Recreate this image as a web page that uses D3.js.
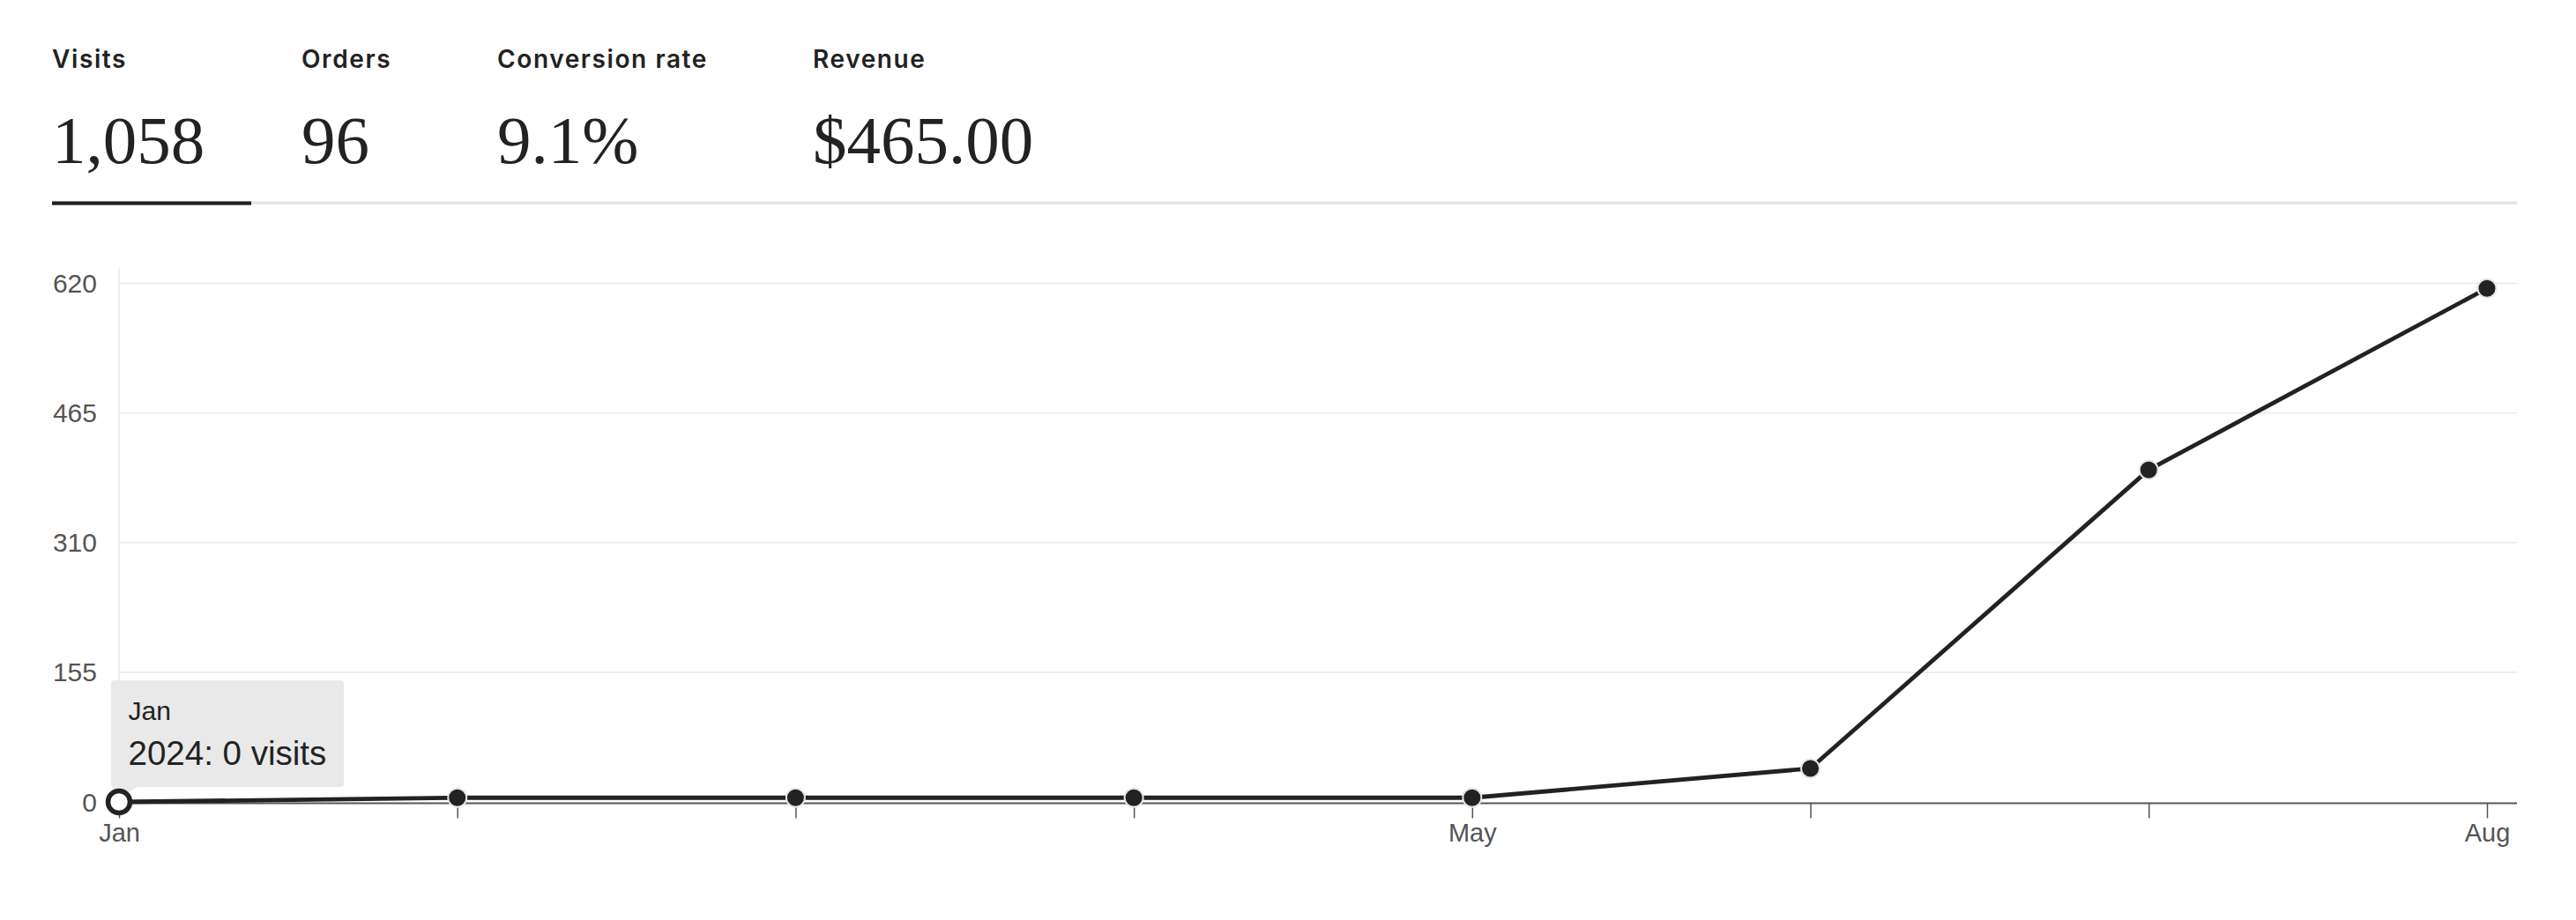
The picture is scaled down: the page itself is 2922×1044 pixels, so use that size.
<!DOCTYPE html>
<html>
<head>
<meta charset="utf-8">
<script src="https://cdn.jsdelivr.net/npm/d3@7/dist/d3.min.js"></script>
<style>
  html, body { margin: 0; padding: 0; background: #fff; }
  svg { display: block; }
</style>
</head>
<body>
<div id="chart"></div>
<script>
// ---- data ----
const metricLabels = ["Visits", "Orders", "Conversion rate", "Revenue"];
const metricValues = ["1,058", "96", "9.1%", "$465.00"];
const months = ["Jan", "Feb", "Mar", "Apr", "May", "Jun", "Jul", "Aug"];
const visits = [0, 5, 5, 5, 5, 40, 397, 614];
const yTicks = [0, 155, 310, 465, 620];
const xTickLabels = ["Jan", "May", "Aug"];
const tooltipTitle = "Jan";
const tooltipBody = "2024: 0 visits";

// ---- layout ----
const W = 2922, H = 1044;
const svg = d3.select("#chart").append("svg").attr("width", W).attr("height", H);

// header metrics
const metricX = [59, 342, 564, 922];
const header = svg.append("g");
metricLabels.forEach((lab, i) => {
  header.append("text")
    .attr("x", metricX[i]).attr("y", 77)
    .attr("font-family", "Inter, 'Open Sans', sans-serif")
    .attr("font-weight", 600).attr("font-size", 28)
    .attr("letter-spacing", 1.6)
    .attr("fill", "#222").text(lab);
  header.append("text")
    .attr("x", metricX[i]).attr("y", 185)
    .attr("font-family", "'Liberation Serif', serif")
    .attr("font-weight", 400).attr("font-size", 77)
    .attr("fill", "#222").text(metricValues[i]);
});
header.append("rect").attr("x", 59).attr("y", 228.5).attr("width", 2796).attr("height", 3.5).attr("fill", "#e6e6e6");
header.append("rect").attr("x", 59).attr("y", 228.5).attr("width", 226).attr("height", 4.2).attr("fill", "#222");

// chart scales
const x = d3.scalePoint().domain(months).range([135, 2821]);
const y = d3.scaleLinear().domain([0, 620]).range([910, 321.5]);
const plotRight = 2855;

const g = svg.append("g");

// gridlines
g.append("g").selectAll("line").data(yTicks.filter(d => d > 0)).join("line")
  .attr("x1", 135).attr("x2", plotRight)
  .attr("y1", d => y(d)).attr("y2", d => y(d))
  .attr("stroke", "#ededed").attr("stroke-width", 2);

// y axis line
g.append("line").attr("x1", 135).attr("x2", 135).attr("y1", 304).attr("y2", 911)
  .attr("stroke", "#ededed").attr("stroke-width", 2);

// y labels
g.append("g").selectAll("text").data(yTicks).join("text")
  .attr("x", 110).attr("y", d => y(d)).attr("dy", "0.35em")
  .attr("text-anchor", "end")
  .attr("font-family", "'Liberation Sans', Arial, sans-serif").attr("font-size", 30)
  .attr("fill", "#555").text(d => d);

// x axis using d3.axisBottom
const xAxis = d3.axisBottom(x).tickSize(17).tickPadding(6)
  .tickFormat(d => xTickLabels.includes(d) ? d : "");
const ax = g.append("g").attr("transform", "translate(0,911.5)").call(xAxis);
ax.select(".domain").remove();
ax.append("line").attr("x1", 135).attr("x2", plotRight).attr("y1", 0).attr("y2", 0)
  .attr("stroke", "#555").attr("stroke-width", 2.2);
ax.selectAll(".tick line").attr("stroke", "#555").attr("stroke-width", 1.5);
ax.selectAll(".tick text")
  .attr("font-family", "'Liberation Sans', Arial, sans-serif").attr("font-size", 29)
  .attr("fill", "#555");

// line
const data = months.map((m, i) => ({ m, v: visits[i] }));
g.append("path").datum(data)
  .attr("d", d3.line().x(d => x(d.m)).y(d => y(d.v)))
  .attr("fill", "none").attr("stroke", "#222").attr("stroke-width", 4.8)
  .attr("stroke-linejoin", "round");

// points
g.append("g").selectAll("circle").data(data.slice(1)).join("circle")
  .attr("cx", d => x(d.m)).attr("cy", d => y(d.v)).attr("r", 10.5)
  .attr("fill", "#222").attr("stroke", "#e6e6e6").attr("stroke-width", 2);

// tooltip
const tt = g.append("g");
tt.append("rect").attr("x", 126).attr("y", 772).attr("width", 264).attr("height", 121)
  .attr("rx", 4).attr("fill", "#e9e9e9");
tt.append("path")
  .attr("d", `M${x("Jan") - 8},892 L${x("Jan") + 22},892 L${x("Jan") + 4},904 Z`)
  .attr("fill", "#e9e9e9");
tt.append("text").attr("x", 145.5).attr("y", 817)
  .attr("font-family", "'Liberation Sans', Arial, sans-serif").attr("font-size", 30)
  .attr("fill", "#222").text(tooltipTitle);
tt.append("text").attr("x", 145.5).attr("y", 868)
  .attr("font-family", "'Liberation Sans', Arial, sans-serif").attr("font-size", 38.5)
  .attr("fill", "#222").text(tooltipBody);

// active (hovered) first point
g.append("circle").datum(data[0])
  .attr("cx", d => x(d.m)).attr("cy", d => y(d.v)).attr("r", 12.5)
  .attr("fill", "#fff").attr("stroke", "#222").attr("stroke-width", 5.5);
</script>
</body>
</html>
